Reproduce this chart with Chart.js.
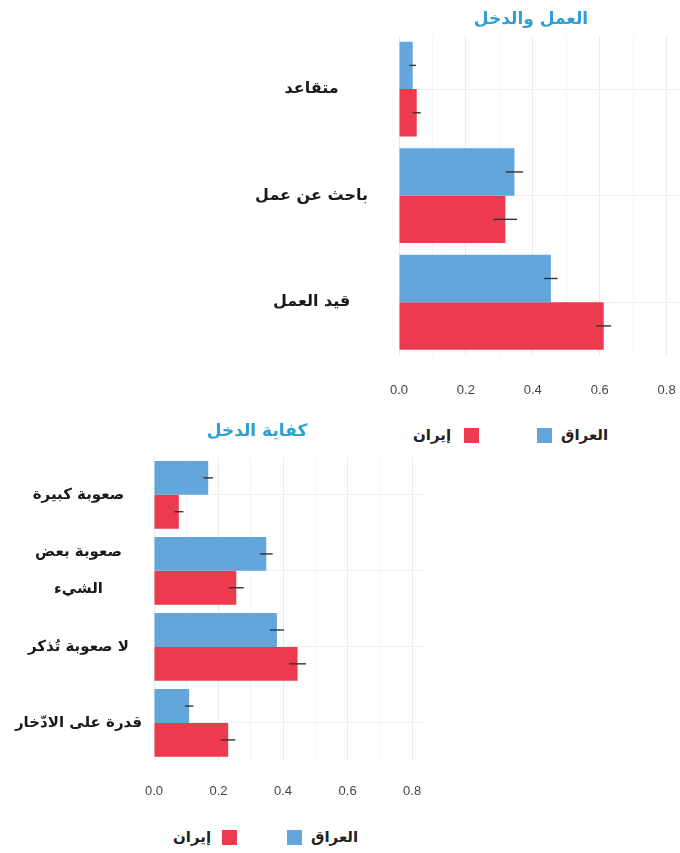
<!DOCTYPE html>
<html lang="ar">
<head>
<meta charset="utf-8">
<script src="https://cdn.jsdelivr.net/npm/chart.js@4.4.1/dist/chart.umd.min.js"></script>
<style>
  html, body { margin: 0; padding: 0; background: #fff; }
  body { width: 680px; height: 853px; position: relative; overflow: hidden; font-family: 'DejaVu Sans', sans-serif; }
  .box { position: absolute; }
  .title { position: absolute; color: #2ea0d4; font-weight: bold; font-size: 17px; transform: translateX(-50%); white-space: nowrap; z-index: 2; }
  .legend { position: absolute; font-weight: bold; font-size: 15px; color: #222; white-space: nowrap; }
  .legend span { position: absolute; top: 0; }
  .legend i { position: absolute; width: 15px; height: 15px; }
</style>
</head>
<body>

<div class="title" style="left:531px; top:8px;">العمل والدخل</div>
<div class="box" style="left:250px; top:23px; width:430px; height:380px;">
  <canvas id="workChart" width="430" height="380"></canvas>
</div>
<div class="legend" style="left:0; top:426px;">
  <span style="left:413px;">إيران</span><i style="left:464px; top:2px; background:#ec3a4e;"></i>
  <i style="left:537px; top:2px; background:#62a6dc;"></i><span style="left:561px;">العراق</span>
</div>

<div class="title" style="left:257px; top:420px;">كفاية الدخل</div>
<div class="box" style="left:0; top:438px; width:430px; height:372px;">
  <canvas id="incomeChart" width="430" height="372"></canvas>
</div>
<div class="legend" style="left:0; top:828px;">
  <span style="left:173px;">إيران</span><i style="left:222px; top:2px; background:#ec3a4e;"></i>
  <i style="left:287px; top:2px; background:#62a6dc;"></i><span style="left:311px;">العراق</span>
</div>

<script>
// Chart 1: work and income
const workLabels = ['متقاعد', 'باحث عن عمل', 'قيد العمل'];
const workIraq = [0.041, 0.345, 0.454];
const workIraqErr = [0.010, 0.026, 0.020];
const workIran = [0.053, 0.318, 0.612];
const workIranErr = [0.012, 0.035, 0.022];

// Chart 2: income sufficiency
const incomeLabels = ['صعوبة كبيرة', ['صعوبة بعض', 'الشيء'], 'لا صعوبة تُذكر', 'قدرة على الادّخار'];
const incomeIraq = [0.168, 0.348, 0.381, 0.109];
const incomeIraqErr = [0.015, 0.020, 0.022, 0.013];
const incomeIran = [0.077, 0.255, 0.445, 0.230];
const incomeIranErr = [0.014, 0.023, 0.026, 0.022];

// x axis: gridlines every 0.1, labels every 0.2
const xGridValues = [0, 0.1, 0.2, 0.3, 0.4, 0.5, 0.6, 0.7, 0.8];
const xTickLabels = ['0.0', '0.2', '0.4', '0.6', '0.8'];
const seriesNames = ['العراق', 'إيران'];

const BLUE = '#62a6dc';
const RED = '#ec3a4e';

// draws horizontal error whiskers at the end of every bar
const errorBars = {
  id: 'errorBars',
  afterDatasetsDraw(chart) {
    const ctx = chart.ctx;
    const xs = chart.scales.x;
    chart.data.datasets.forEach((ds, i) => {
      const meta = chart.getDatasetMeta(i);
      meta.data.forEach((bar, j) => {
        const v = ds.data[j];
        const e = ds.errors[j];
        ctx.save();
        ctx.strokeStyle = '#333';
        ctx.lineWidth = 1.4;
        ctx.beginPath();
        ctx.moveTo(xs.getPixelForValue(v - e), bar.y);
        ctx.lineTo(xs.getPixelForValue(v + e), bar.y);
        ctx.stroke();
        ctx.restore();
      });
    });
  }
};

function makeChart(id, labels, iraq, iraqErr, iran, iranErr, opts) {
  const ctx = document.getElementById(id).getContext('2d');
  return new Chart(ctx, {
    type: 'bar',
    data: {
      labels: labels,
      datasets: [
        { label: seriesNames[0], data: iraq, errors: iraqErr, backgroundColor: BLUE },
        { label: seriesNames[1], data: iran, errors: iranErr, backgroundColor: RED }
      ]
    },
    options: {
      indexAxis: 'y',
      responsive: false,
      animation: false,
      layout: { padding: { top: 0, right: opts.padRight } },
      datasets: { bar: { barPercentage: 1.0, categoryPercentage: 0.89 } },
      plugins: {
        legend: { display: false },
        tooltip: { enabled: false }
      },
      scales: {
        x: {
          min: 0,
          max: 0.84,
          border: { display: false },
          grid: {
            drawTicks: true,
            tickLength: opts.xGap,
            tickColor: 'transparent',
            color: c => (c.index % 2 === 0) ? '#ebebeb' : '#f5f5f5'
          },
          ticks: {
            padding: 0,
            color: '#444',
            font: { family: "'Liberation Sans', Arial, sans-serif", size: 13 },
            autoSkip: false,
            maxRotation: 0,
            callback: (v, i) => (i % 2 === 0 ? xTickLabels[i / 2] : '')
          },
          afterBuildTicks: s => { s.ticks = xGridValues.map(v => ({ value: v })); },
          afterFit: s => { s.height = opts.xHeight; }
        },
        y: {
          border: { display: false },
          grid: {
            offset: false,
            drawTicks: true,
            tickLength: opts.yGap,
            tickColor: 'transparent',
            color: '#eeeeee'
          },
          ticks: {
            crossAlign: 'center',
            autoSkip: false,
            padding: 0,
            color: '#1a1a1a',
            font: { family: "'DejaVu Sans', sans-serif", size: opts.labelSize, weight: 'bold', lineHeight: opts.lineHeight }
          },
          afterFit: s => { s.width = opts.yWidth; }
        }
      }
    },
    plugins: [errorBars]
  });
}

makeChart('workChart', workLabels, workIraq, workIraqErr, workIran, workIranErr,
  { padRight: 0, xHeight: 47.5, xGap: 27, yGap: 31, yWidth: 149, labelSize: 16, lineHeight: 1.6 });

makeChart('incomeChart', incomeLabels, incomeIraq, incomeIraqErr, incomeIran, incomeIranErr,
  { padRight: 5, xHeight: 49, xGap: 23, yGap: 12, yWidth: 154, labelSize: 15, lineHeight: 2.5 });
</script>
</body>
</html>
